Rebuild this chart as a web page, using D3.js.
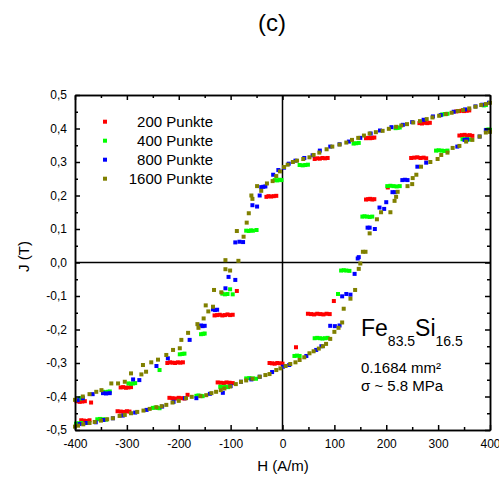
<!DOCTYPE html>
<html>
<head>
<meta charset="utf-8">
<script src="https://cdn.jsdelivr.net/npm/d3@7"></script>
<style>
  body { margin: 0; background: #fff; }
  text { font-family: "Liberation Sans", Arial, sans-serif; }
</style>
</head>
<body>
<div id="chart"></div>
<script>
// Achsenticks
const xTicks = [-400, -300, -200, -100, 0, 100, 200, 300, 400];
const xMinor = [-350, -250, -150, -50, 50, 150, 250, 350];
const yTicks = [-0.5, -0.4, -0.3, -0.2, -0.1, 0, 0.1, 0.2, 0.3, 0.4, 0.5];
const yMinor = [-0.45, -0.35, -0.25, -0.15, -0.05, 0.05, 0.15, 0.25, 0.35, 0.45];

const seriesNames = ["200 Punkte", "400 Punkte", "800 Punkte", "1600 Punkte"];
const seriesColors = ["#ff0000", "#00ff00", "#0000ff", "#808000"];

// Messpunkte [H (A/m), J (T)] - obere Kurve, dann untere Kurve
const pts200 = [
  [360,0.454],[355,0.453],[350,0.452],[345,0.453],[340,0.452],[335,0.451],
  [284,0.417],[279,0.416],[274,0.417],[269,0.415],[264,0.416],
  [177,0.373],[173,0.372],[169,0.371],[165,0.372],[161,0.371],
  [87,0.312],[82,0.311],[77,0.312],[72,0.310],[67,0.311],[62,0.309],
  [-12,0.199],[-17,0.198],[-22,0.197],[-27,0.198],[-31,0.196],
  [-88,-0.085],
  [-96,-0.156],[-101,-0.157],[-106,-0.155],[-111,-0.157],[-116,-0.158],[-121,-0.156],[-126,-0.157],[-131,-0.158],
  [-192,-0.298],[-197,-0.299],[-202,-0.298],[-207,-0.300],[-212,-0.299],[-217,-0.298],[-222,-0.300],
  [-292,-0.372],[-297,-0.373],[-302,-0.374],[-307,-0.372],[-312,-0.373],
  [-369,-0.418],[-381,-0.414],[-386,-0.415],[-391,-0.416],[-397,-0.414],
  [-388,-0.471],[-383,-0.472],[-378,-0.473],[-372,-0.471],
  [-318,-0.444],[-312,-0.445],[-306,-0.446],[-300,-0.444],[-295,-0.445],
  [-218,-0.404],[-212,-0.405],[-206,-0.406],[-200,-0.404],[-194,-0.405],[-189,-0.406],[-183,-0.395],
  [-125,-0.358],[-119,-0.359],[-113,-0.360],[-108,-0.358],[-102,-0.359],[-96,-0.360],
  [-25,-0.300],[-20,-0.301],[-15,-0.302],[-10,-0.300],[-5,-0.301],[0,-0.302],
  [26,-0.253],
  [49,-0.153],[55,-0.154],[61,-0.155],[67,-0.153],[73,-0.154],[79,-0.155],[85,-0.153],[91,-0.154],
  [99,-0.115],
  [161,0.188],[165,0.189],[169,0.190],[173,0.188],[177,0.189],
  [203,0.224],
  [248,0.312],[254,0.313],[260,0.314],[266,0.312],[272,0.313],[277,0.311],
  [341,0.379],[346,0.380],[351,0.381],[356,0.379],[361,0.380],[366,0.378]
];

const pts400 = [
  [392,0.470],[388,0.469],
  [318,0.444],[313,0.443],[308,0.442],
  [226,0.403],[222,0.402],[218,0.401],
  [147,0.357],[142,0.356],[137,0.355],
  [49,0.292],[44,0.291],[39,0.290],[33,0.291],
  [-2,0.246],[-6,0.247],[-10,0.245],[-15,0.246],
  [-50,0.097],[-57,0.095],[-61,0.096],[-65,0.094],[-70,0.095],
  [-101,-0.080],
  [-96,-0.095],[-106,-0.094],[-111,-0.095],[-116,-0.093],
  [-150,-0.212],[-153,-0.213],[-157,-0.214],
  [-189,-0.272],[-193,-0.273],[-198,-0.274],
  [-237,-0.321],
  [-284,-0.360],[-288,-0.361],[-292,-0.362],[-297,-0.361],
  [-333,-0.385],[-337,-0.386],[-341,-0.387],[-346,-0.386],
  [-385,-0.404],[-388,-0.405],[-391,-0.406],
  [-398,-0.481],[-393,-0.480],[-388,-0.479],
  [-357,-0.468],[-352,-0.467],[-346,-0.468],[-340,-0.469],
  [-250,-0.434],[-245,-0.433],[-241,-0.434],[-237,-0.435],
  [-166,-0.398],[-162,-0.397],[-158,-0.398],[-154,-0.399],
  [-120,-0.371],[-115,-0.372],[-110,-0.371],[-105,-0.372],
  [-70,-0.346],[-64,-0.345],[-57,-0.346],[-51,-0.347],
  [23,-0.279],[28,-0.278],[33,-0.279],
  [62,-0.226],[67,-0.225],[72,-0.226],[77,-0.227],[82,-0.226],[87,-0.225],
  [107,-0.094],
  [113,-0.024],[118,-0.023],[123,-0.024],[129,-0.025],
  [154,0.137],[158,0.138],[163,0.137],[168,0.136],[173,0.137],
  [202,0.228],[208,0.229],[214,0.228],[220,0.227],[226,0.228],
  [296,0.334],[301,0.335],[307,0.334],[312,0.333],[318,0.334],
  [347,0.368],[351,0.369],[356,0.368],[360,0.367],
  [393,0.396],[397,0.397],[400,0.396]
];

const pts800 = [
  [398,0.477],[385,0.471],[372,0.466],[352,0.457],[330,0.450],[305,0.440],[290,0.436],[272,0.426],
  [250,0.419],[232,0.411],[210,0.404],[188,0.394],[170,0.385],[150,0.372],[128,0.361],[110,0.353],
  [92,0.346],[72,0.334],[58,0.320],[42,0.312],[25,0.304],[12,0.295],[3,0.283],[-8,0.276],[-18,0.262],
  [-33,0.227],[-37,0.226],[-41,0.225],
  [-44,0.200],[-49,0.167],[-58,0.171],
  [-76,0.061],[-83,0.062],[-91,0.060],
  [-91,-0.052],[-104,-0.043],[-110,-0.077],
  [-126,-0.141],[-130,-0.142],[-134,-0.140],
  [-150,-0.189],[-154,-0.190],[-157,-0.188],
  [-179,-0.231],[-221,-0.286],[-243,-0.309],[-276,-0.351],[-288,-0.349],
  [-333,-0.390],[-340,-0.391],[-346,-0.390],[-366,-0.393],[-385,-0.405],[-395,-0.411],
  [-391,-0.482],[-378,-0.479],[-360,-0.477],[-345,-0.470],[-327,-0.465],[-308,-0.457],[-284,-0.448],
  [-262,-0.440],[-232,-0.430],[-210,-0.416],[-188,-0.405],[-166,-0.405],[-140,-0.392],[-115,-0.389],
  [-100,-0.369],[-80,-0.356],[-60,-0.349],[-44,-0.341],[-20,-0.327],[1,-0.311],[13,-0.306],
  [46,-0.279],[65,-0.261],[75,-0.250],
  [92,-0.189],[101,-0.190],[110,-0.188],
  [115,-0.101],[123,-0.094],[131,-0.096],
  [139,-0.034],[145,0.012],[147,0.016],
  [164,0.104],[168,0.104],[178,0.100],
  [187,0.164],[196,0.160],[200,0.180],
  [212,0.210],[217,0.210],
  [231,0.246],[236,0.247],[241,0.246],
  [260,0.286],[277,0.298],[337,0.346],[351,0.366],[356,0.367],[380,0.376],[392,0.395]
];

const pts1600 = [
  [400,0.477],[392,0.473],[383,0.470],[372,0.465],[360,0.460],[348,0.455],[338,0.452],[326,0.447],
  [315,0.443],[302,0.438],[289,0.433],[278,0.428],[265,0.422],[252,0.418],[240,0.413],[229,0.409],
  [219,0.405],[205,0.399],[193,0.393],[180,0.389],[168,0.385],[157,0.379],[146,0.372],[134,0.366],
  [123,0.358],[110,0.352],[96,0.346],[85,0.338],[71,0.328],[60,0.321],[52,0.314],[40,0.309],
  [28,0.304],[20,0.300],[10,0.292],[3,0.285],[-5,0.272],[-12,0.258],[-19,0.243],[-30,0.236],
  [-41,0.214],[-49,0.228],[-60,0.200],[-58,0.190],[-65,0.147],[-69,0.119],[-75,0.077],[-88,0.094],
  [-85,0.005],[-110,0.007],[-110,-0.020],[-101,-0.024],[-118,-0.089],[-132,-0.082],[-134,-0.132],
  [-148,-0.128],[-143,-0.146],[-152,-0.167],[-164,-0.184],[-162,-0.195],[-182,-0.210],[-195,-0.231],
  [-198,-0.256],[-211,-0.261],[-224,-0.276],[-240,-0.290],[-253,-0.298],[-269,-0.306],[-263,-0.326],
  [-272,-0.334],[-292,-0.331],[-304,-0.356],[-317,-0.361],[-330,-0.361],[-349,-0.381],[-359,-0.386],
  [-372,-0.393],[-385,-0.400],[-400,-0.410],
  [-400,-0.490],[-394,-0.487],[-384,-0.483],[-372,-0.479],[-362,-0.476],[-350,-0.472],[-338,-0.468],
  [-327,-0.465],[-314,-0.458],[-304,-0.455],[-292,-0.450],[-280,-0.446],[-268,-0.442],[-256,-0.437],
  [-243,-0.432],[-233,-0.429],[-224,-0.425],[-212,-0.418],[-200,-0.413],[-186,-0.405],[-175,-0.401],
  [-158,-0.399],[-147,-0.396],[-137,-0.390],[-128,-0.386],[-119,-0.381],[-112,-0.376],[-101,-0.370],
  [-90,-0.363],[-80,-0.356],[-70,-0.352],[-58,-0.347],[-44,-0.341],[-33,-0.336],[-25,-0.333],
  [-12,-0.321],[-4,-0.316],[6,-0.309],[15,-0.303],[25,-0.298],[33,-0.291],[42,-0.283],[52,-0.271],
  [60,-0.265],[70,-0.257],[78,-0.250],[84,-0.243],[92,-0.228],[100,-0.207],[108,-0.195],[115,-0.179],
  [118,-0.138],[131,-0.108],[140,-0.082],[147,-0.019],[150,-0.003],[155,0.032],[160,0.032],[168,0.087],
  [182,0.129],[190,0.150],[208,0.150],[216,0.184],[219,0.196],[222,0.211],[241,0.228],[250,0.234],
  [251,0.252],[258,0.262],[267,0.286],[285,0.300],[299,0.309],[306,0.321],[318,0.328],[328,0.342],
  [341,0.348],[354,0.361],[366,0.366],[380,0.376],[392,0.388],[400,0.390]
];

const allSeries = [pts200, pts400, pts800, pts1600];

const width = 499;
const height = 477;
const mLeft = 75, mRight = 490, mTop = 95, mBottom = 430;

const svg = d3.select("#chart").append("svg")
  .attr("width", width)
  .attr("height", height);

const x = d3.scaleLinear().domain([-400, 400]).range([mLeft, mRight]);
const y = d3.scaleLinear().domain([-0.5, 0.5]).range([mBottom, mTop]);

const fmtY = d => d3.format(".1f")(d).replace(".", ",").replace("−", "-");

// Nulllinien
svg.append("line")
  .attr("x1", x(0)).attr("x2", x(0))
  .attr("y1", mTop).attr("y2", mBottom)
  .attr("stroke", "#000").attr("stroke-width", 1.5);
svg.append("line")
  .attr("x1", mLeft).attr("x2", mRight)
  .attr("y1", y(0)).attr("y2", y(0))
  .attr("stroke", "#000").attr("stroke-width", 1.5);

// Punkte
const size = 4;
allSeries.forEach((pts, i) => {
  svg.append("g")
    .selectAll("rect")
    .data(pts)
    .join("rect")
    .attr("x", d => x(d[0]) - size / 2)
    .attr("y", d => y(d[1]) - size / 2)
    .attr("width", size)
    .attr("height", size)
    .attr("fill", seriesColors[i]);
});

// Achsen
function styleAxis(g) {
  g.selectAll("path, line").attr("stroke", "#000").attr("stroke-width", 1.5);
  g.selectAll("text").attr("fill", "#000").style("font-size", "12px")
    .style("font-family", '"Liberation Sans", Arial, sans-serif');
}

svg.append("g").attr("transform", `translate(0,${mBottom})`)
  .call(d3.axisBottom(x).tickValues(xTicks).tickSizeInner(-5).tickSizeOuter(0).tickPadding(9).tickFormat(d => String(d)))
  .call(styleAxis);
svg.append("g").attr("transform", `translate(0,${mBottom})`)
  .call(d3.axisBottom(x).tickValues(xMinor).tickSizeInner(-3).tickSizeOuter(0).tickFormat(""))
  .call(styleAxis);
svg.append("g").attr("transform", `translate(0,${mTop})`)
  .call(d3.axisTop(x).tickValues(xTicks).tickSizeInner(-5).tickSizeOuter(0).tickFormat(""))
  .call(styleAxis);
svg.append("g").attr("transform", `translate(0,${mTop})`)
  .call(d3.axisTop(x).tickValues(xMinor).tickSizeInner(-3).tickSizeOuter(0).tickFormat(""))
  .call(styleAxis);

svg.append("g").attr("transform", `translate(${mLeft},0)`)
  .call(d3.axisLeft(y).tickValues(yTicks).tickSizeInner(-5).tickSizeOuter(0).tickPadding(8).tickFormat(fmtY))
  .call(styleAxis);
svg.append("g").attr("transform", `translate(${mLeft},0)`)
  .call(d3.axisLeft(y).tickValues(yMinor).tickSizeInner(-3).tickSizeOuter(0).tickFormat(""))
  .call(styleAxis);
svg.append("g").attr("transform", `translate(${mRight},0)`)
  .call(d3.axisRight(y).tickValues(yTicks).tickSizeInner(-5).tickSizeOuter(0).tickFormat(""))
  .call(styleAxis);
svg.append("g").attr("transform", `translate(${mRight},0)`)
  .call(d3.axisRight(y).tickValues(yMinor).tickSizeInner(-3).tickSizeOuter(0).tickFormat(""))
  .call(styleAxis);

// Achsentitel
svg.append("text")
  .attr("x", (mLeft + mRight) / 2 + 0.5)
  .attr("y", 471)
  .attr("text-anchor", "middle")
  .style("font-size", "15px")
  .text("H (A/m)");

svg.append("text")
  .attr("transform", `translate(29,${(mTop + mBottom) / 2 - 6}) rotate(-90)`)
  .attr("text-anchor", "middle")
  .style("font-size", "15px")
  .text("J (T)");

// Titel
svg.append("text")
  .attr("x", 272)
  .attr("y", 31)
  .attr("text-anchor", "middle")
  .style("font-size", "24px")
  .text("(c)");

// Legende
const legend = svg.append("g");
seriesNames.forEach((name, i) => {
  const cy = 121.7 + i * 19;
  legend.append("rect")
    .attr("x", 105 - size / 2).attr("y", cy - size / 2)
    .attr("width", size).attr("height", size)
    .attr("fill", seriesColors[i]);
  legend.append("text")
    .attr("x", 213).attr("y", cy + 5.5)
    .attr("text-anchor", "end")
    .style("font-size", "15px")
    .text(name);
});

// Probenbeschriftung
const label = svg.append("text")
  .attr("x", 361)
  .attr("y", 336)
  .style("font-size", "23px");
label.append("tspan").text("Fe");
label.append("tspan").attr("dy", 10).style("font-size", "14px").text("83.5");
label.append("tspan").attr("dy", -10).text("Si");
label.append("tspan").attr("dy", 10).style("font-size", "14px").text("16.5");

svg.append("text")
  .attr("x", 361).attr("y", 372.5)
  .style("font-size", "15px")
  .text("0.1684 mm²");
svg.append("text")
  .attr("x", 361).attr("y", 390.5)
  .style("font-size", "15px")
  .text("σ ~ 5.8 MPa");
</script>
</body>
</html>
